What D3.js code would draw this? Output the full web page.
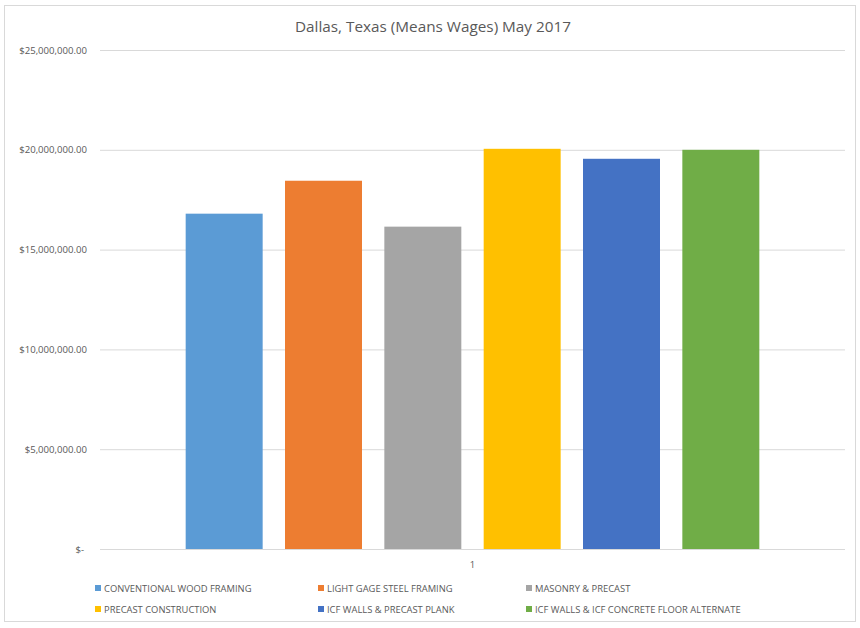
<!DOCTYPE html>
<html>
<head>
<meta charset="utf-8">
<script src="https://cdn.jsdelivr.net/npm/d3@7"></script>
<style>
  body { margin: 0; background: #fff; }
  text { font-family: "Open Sans", "Liberation Sans", sans-serif; }
</style>
</head>
<body>
<svg id="chart" width="860" height="628"></svg>
<script>
const categories = ['1'];
const seriesNames = [
    'CONVENTIONAL WOOD FRAMING',
    'LIGHT GAGE STEEL FRAMING',
    'MASONRY & PRECAST',
    'PRECAST CONSTRUCTION',
    'ICF WALLS & PRECAST PLANK',
    'ICF WALLS & ICF CONCRETE FLOOR ALTERNATE'
];
const seriesValues = [16800000, 18450000, 16150000, 20050000, 19550000, 20000000];
const seriesColors = ['#5b9bd5', '#ed7d31', '#a5a5a5', '#ffc000', '#4472c4', '#70ad47'];
const yTicks = [0, 5000000, 10000000, 15000000, 20000000, 25000000];

const svg = d3.select('#chart');
const width = +svg.attr('width');
const height = +svg.attr('height');

const margin = { top: 50, bottom: 79, right: 15, left: 100 };
const innerWidth = width - margin.left - margin.right;
const innerHeight = height - margin.top - margin.bottom;

// chart border
svg.append('rect')
    .attr('x', 4.5).attr('y', 5.5)
    .attr('width', width - 9).attr('height', height - 12)
    .attr('fill', 'none')
    .attr('stroke', '#d9d9d9');

svg.append('text')
    .attr('x', 433)
    .attr('y', 32)
    .attr('text-anchor', 'middle')
    .attr('fill', '#595959')
    .attr('font-size', 15.3)
    .text('Dallas, Texas (Means Wages) May 2017');

const g = svg.append('g')
    .attr('transform', `translate(${margin.left}, ${margin.top})`);

const yScale = d3.scaleLinear()
    .domain([0, 25000000])
    .range([innerHeight, 0]);

const x0 = d3.scaleBand()
    .domain(categories)
    .range([0, innerWidth]);

const x1 = d3.scaleBand()
    .domain(seriesNames)
    .range([0, x0.bandwidth()])
    .paddingInner(0.225)
    .paddingOuter(0.8625);

const moneyFormat = v => v === 0 ? '$-' : '$' + d3.format(',.2f')(v);

const yAxis = d3.axisLeft(yScale)
    .tickValues(yTicks)
    .tickFormat(moneyFormat)
    .tickSize(-innerWidth)
    .tickPadding(13);

const yAxisG = g.append('g').call(yAxis);
yAxisG.select('.domain').remove();
yAxisG.selectAll('line')
    .attr('stroke', '#d9d9d9');
yAxisG.selectAll('text')
    .attr('fill', '#595959')
    .attr('font-size', 9.6)
    .style('font-family', '"Open Sans", sans-serif');
yAxisG.selectAll('.tick')
    .filter(d => d === 0)
    .select('text')
    .attr('x', -16);

const barsG = g.selectAll('.cat').data(categories)
    .enter().append('g')
    .attr('transform', d => `translate(${x0(d)}, 0)`);

barsG.selectAll('rect')
    .data(seriesNames.map((name, i) => ({ name, value: seriesValues[i], color: seriesColors[i] })))
    .enter().append('rect')
    .attr('x', d => x1(d.name))
    .attr('width', x1.bandwidth())
    .attr('y', d => yScale(d.value))
    .attr('height', d => innerHeight - yScale(d.value))
    .attr('fill', d => d.color);

const xAxisG = g.append('g')
    .attr('transform', `translate(0, ${innerHeight})`)
    .call(d3.axisBottom(x0).tickSize(0).tickPadding(12));
xAxisG.select('.domain').remove();
xAxisG.selectAll('text')
    .attr('fill', '#595959')
    .attr('font-size', 9.5)
    .style('font-family', '"Open Sans", sans-serif');

// legend
const legendCols = [95, 318, 526];
const legendRows = [589, 610];
const legend = svg.append('g');
seriesNames.forEach((name, i) => {
    const lx = legendCols[i % 3];
    const ly = legendRows[Math.floor(i / 3)];
    legend.append('rect')
        .attr('x', lx)
        .attr('y', ly - 4)
        .attr('width', 6)
        .attr('height', 6)
        .attr('fill', seriesColors[i]);
    legend.append('text')
        .attr('x', lx + 9)
        .attr('y', ly + 3)
        .attr('fill', '#595959')
        .attr('font-size', 9.4)
        .text(name);
});
</script>
</body>
</html>
